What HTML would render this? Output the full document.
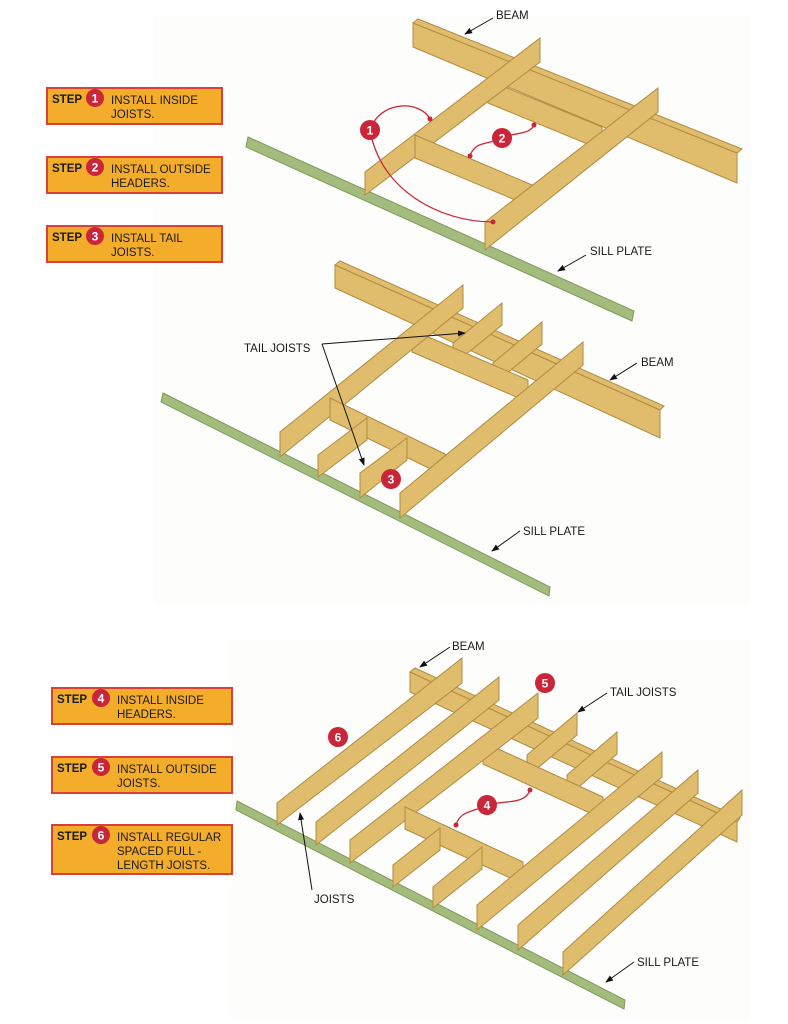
<!DOCTYPE html>
<html><head><meta charset="utf-8"><style>
body{margin:0;background:#fff;}
svg{display:block}
text{font-family:"Liberation Sans",sans-serif;font-size:11.5px;fill:#1a1a1a}
.w{fill:#e0bd6c;stroke:#b08a40;stroke-width:1}
.d{fill:#c9a45a;stroke:#a98540;stroke-width:1}
.s{fill:#a3bb7c;stroke:#7f9a5a;stroke-width:1}
.box{fill:#f4ad2b;stroke:#d8403a;stroke-width:2}
.c{fill:#c9263a}
.n{fill:#fff;font-weight:bold;font-size:12px}
.b{font-weight:bold}
.l{stroke:#111;stroke-width:1;fill:none}
.r{stroke:#c9263a;stroke-width:1.3;fill:none}
</style></head><body>
<svg width="788" height="1024" viewBox="0 0 788 1024">
<defs><marker id="a" markerWidth="8" markerHeight="8" refX="7" refY="4" orient="auto"><path d="M0,1 L8,4 L0,7z" fill="#111"/></marker></defs>
<rect x="155" y="15" width="595" height="590" fill="#fdfdfb"/>
<rect x="230" y="640" width="520" height="380" fill="#fdfdfb"/>

<!-- TOP -->
<polygon class="s" points="248,137 634,311 632,321 246,147"/>
<polygon class="w" points="413,23 737,153 737,183 413,47"/>
<polygon class="w" points="413,23 418,19 742,149 737,153"/>
<polygon class="w" points="488,80 602,127 602,150 488,103"/>
<polygon class="w" points="365,172 540,38 540,62 365,195"/>
<polygon class="w" points="415,135 532,185 532,207 415,158"/>
<polygon class="w" points="485,222 658,88 658,112 485,250"/>
<path class="r" d="M370,130 C380,100 420,100 430,119"/>
<path class="r" d="M370,130 C380,190 440,222 493,222"/>
<path class="r" d="M470,156 C475,140 490,145 502,138 C515,132 530,135 534,125"/>
<circle cx="430" cy="119" r="2.5" class="c"/><circle cx="493" cy="222" r="2.5" class="c"/>
<circle cx="470" cy="156" r="2.5" class="c"/><circle cx="534" cy="125" r="2.5" class="c"/>
<circle cx="370" cy="130" r="10" class="c"/><text x="370" y="134.5" text-anchor="middle" class="n">1</text>
<circle cx="502" cy="138" r="10" class="c"/><text x="502" y="142.5" text-anchor="middle" class="n">2</text>
<path class="l" d="M493,18 L465,34" marker-end="url(#a)"/><text x="496" y="19">BEAM</text>
<path class="l" d="M586,255 L558,271" marker-end="url(#a)"/><text x="590" y="255">SILL PLATE</text>

<rect x="47" y="88" width="175" height="36" class="box"/>
<text x="52" y="103" class="b">STEP</text><circle cx="95" cy="98" r="9" class="c"/><text x="95" y="102.5" text-anchor="middle" class="n">1</text>
<text x="111" y="104">INSTALL INSIDE</text><text x="111" y="118">JOISTS.</text>
<rect x="47" y="157" width="175" height="36" class="box"/>
<text x="52" y="172" class="b">STEP</text><circle cx="95" cy="167" r="9" class="c"/><text x="95" y="171.5" text-anchor="middle" class="n">2</text>
<text x="111" y="173">INSTALL OUTSIDE</text><text x="111" y="187">HEADERS.</text>
<rect x="47" y="226" width="175" height="36" class="box"/>
<text x="52" y="241" class="b">STEP</text><circle cx="95" cy="236" r="9" class="c"/><text x="95" y="240.5" text-anchor="middle" class="n">3</text>
<text x="111" y="242">INSTALL TAIL</text><text x="111" y="256">JOISTS.</text>

<!-- MIDDLE -->
<polygon class="s" points="163,393 550,587 549,596 161,402"/>
<polygon class="w" points="335,265 660,410 660,438 335,288"/>
<polygon class="w" points="335,265 340,261 664,406 660,410"/>
<polygon class="w" points="453,343 502,303 502,325 453,365"/>
<polygon class="w" points="493,363 542,322 542,344 493,385"/>
<polygon class="w" points="412,330 528,380 528,402 412,352"/>
<polygon class="w" points="280,432 463,285 463,308 280,457"/>
<polygon class="w" points="330,398 447,455 447,477 330,420"/>
<polygon class="w" points="318,455 367,418 367,440 318,477"/>
<polygon class="w" points="360,473 407,438 407,460 360,498"/>
<polygon class="w" points="400,493 583,342 583,365 400,518"/>
<circle cx="391" cy="479" r="10" class="c"/><text x="391" y="483.5" text-anchor="middle" class="n">3</text>
<text x="244" y="352">TAIL JOISTS</text>
<path class="l" d="M322,344 L465,333" marker-end="url(#a)"/>
<path class="l" d="M322,344 L364,465" marker-end="url(#a)"/>
<path class="l" d="M637,363 L610,380" marker-end="url(#a)"/><text x="641" y="366">BEAM</text>
<path class="l" d="M520,531 L492,551" marker-end="url(#a)"/><text x="523" y="535">SILL PLATE</text>

<!-- BOTTOM -->
<polygon class="s" points="237,801 625,1000 624,1009 236,810"/>
<polygon class="w" points="410,672 737,822 737,842 410,692"/>
<polygon class="w" points="410,672 415,668 740,818 737,822"/>
<polygon class="w" points="527,755 577,713 577,735 527,777"/>
<polygon class="w" points="567,775 617,732 617,754 567,797"/>
<polygon class="w" points="277,803 462,658 462,683 277,825"/>
<polygon class="w" points="316,822 499,677 499,700 316,845"/>
<polygon class="w" points="483,742 603,797 603,819 483,764"/>
<polygon class="w" points="350,840 538,693 538,718 350,863"/>
<polygon class="w" points="405,807 523,862 523,884 405,829"/>
<polygon class="w" points="393,865 440,828 440,850 393,887"/>
<polygon class="w" points="433,887 482,847 482,869 433,908"/>
<polygon class="w" points="477,905 662,752 662,777 477,930"/>
<polygon class="w" points="518,925 698,770 698,793 518,950"/>
<polygon class="w" points="563,952 742,790 742,815 563,975"/>
<path class="r" d="M456,825 C460,810 475,812 487,805 C505,800 525,805 530,790"/>
<circle cx="456" cy="825" r="2.5" class="c"/><circle cx="530" cy="790" r="2.5" class="c"/>
<circle cx="487" cy="805" r="10" class="c"/><text x="487" y="809.5" text-anchor="middle" class="n">4</text>
<circle cx="545" cy="683" r="10" class="c"/><text x="545" y="687.5" text-anchor="middle" class="n">5</text>
<circle cx="338" cy="737" r="10" class="c"/><text x="338" y="741.5" text-anchor="middle" class="n">6</text>
<path class="l" d="M450,647 L420,667" marker-end="url(#a)"/><text x="452" y="650">BEAM</text>
<path class="l" d="M607,693 L578,712" marker-end="url(#a)"/><text x="610" y="696">TAIL JOISTS</text>
<path class="l" d="M312,890 L300,813" marker-end="url(#a)"/><text x="314" y="903">JOISTS</text>
<path class="l" d="M634,962 L606,982" marker-end="url(#a)"/><text x="637" y="966">SILL PLATE</text>

<rect x="52" y="688" width="180" height="36" class="box"/>
<text x="57" y="703" class="b">STEP</text><circle cx="101" cy="698" r="9" class="c"/><text x="101" y="702.5" text-anchor="middle" class="n">4</text>
<text x="117" y="704">INSTALL INSIDE</text><text x="117" y="718">HEADERS.</text>
<rect x="52" y="757" width="180" height="36" class="box"/>
<text x="57" y="772" class="b">STEP</text><circle cx="101" cy="767" r="9" class="c"/><text x="101" y="771.5" text-anchor="middle" class="n">5</text>
<text x="117" y="773">INSTALL OUTSIDE</text><text x="117" y="787">JOISTS.</text>
<rect x="52" y="825" width="180" height="49" class="box"/>
<text x="57" y="840" class="b">STEP</text><circle cx="101" cy="835" r="9" class="c"/><text x="101" y="839.5" text-anchor="middle" class="n">6</text>
<text x="117" y="841">INSTALL REGULAR</text><text x="117" y="855">SPACED FULL -</text><text x="117" y="869">LENGTH JOISTS.</text>
</svg>
</body></html>
